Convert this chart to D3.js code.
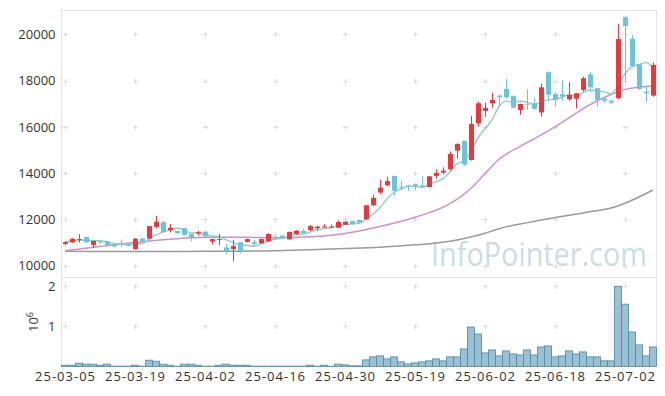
<!DOCTYPE html>
<html>
<head>
<meta charset="utf-8">
<script src="https://cdn.jsdelivr.net/npm/d3@7"></script>
<style>
  body { margin: 0; background: #fff; }
  svg { display: block; font-family: "Open Sans", sans-serif; }
</style>
</head>
<body>
<div id="chart"></div>
<script>
// trading days, 25-03-05 .. 25-07-08
const dates = [
  "25-03-05","25-03-06","25-03-07","25-03-10","25-03-11","25-03-12","25-03-13","25-03-14","25-03-17","25-03-18",
  "25-03-19","25-03-20","25-03-21","25-03-24","25-03-25","25-03-26","25-03-27","25-03-28","25-03-31","25-04-01",
  "25-04-02","25-04-03","25-04-04","25-04-07","25-04-08","25-04-09","25-04-10","25-04-11","25-04-14","25-04-15",
  "25-04-16","25-04-17","25-04-18","25-04-21","25-04-22","25-04-23","25-04-24","25-04-25","25-04-28","25-04-29",
  "25-04-30","25-05-02","25-05-07","25-05-08","25-05-09","25-05-12","25-05-13","25-05-14","25-05-15","25-05-16",
  "25-05-19","25-05-20","25-05-21","25-05-22","25-05-23","25-05-26","25-05-27","25-05-28","25-05-29","25-05-30",
  "25-06-02","25-06-04","25-06-05","25-06-09","25-06-10","25-06-11","25-06-12","25-06-13","25-06-16","25-06-17",
  "25-06-18","25-06-19","25-06-20","25-06-23","25-06-24","25-06-25","25-06-26","25-06-27","25-06-30","25-07-01",
  "25-07-02","25-07-03","25-07-04","25-07-07","25-07-08"
];

const open = [
  10940,11010,11130,11240,10900,11040,11050,10920,10950,10900,
  10710,11170,11170,11680,11880,11530,11500,11620,11360,11400,
  11470,11040,11120,10790,10720,11010,11025,11020,10970,11050,
  11250,11300,11140,11370,11510,11540,11620,11650,11650,11640,
  11770,11930,11970,12005,12610,13160,13470,13880,13420,13470,
  13520,13480,13400,13880,14020,14170,14970,15390,14570,16150,
  16690,17020,17350,17640,17340,16730,17000,17020,16620,18360,
  17420,17410,17190,17220,17600,18270,17670,17230,17130,17240,
  20740,19800,18700,17520,17350
];
const high = [
  11060,11190,11360,11250,11080,11120,11070,10940,11140,10930,
  11180,11210,11720,12160,11930,11800,11510,11640,11380,11500,
  11490,11160,11370,10960,11110,11020,11160,11110,11160,11400,
  11370,11310,11470,11540,11600,11760,11730,11800,11790,11960,
  11920,11940,11990,12620,13060,13700,13850,13890,13660,13480,
  13560,13850,13880,14170,14250,14930,15290,15400,16470,17090,
  17050,17480,17400,18070,17350,17000,17620,17260,17880,18400,
  17500,18000,17930,17460,18170,18360,17680,17280,17140,20450,
  20800,19970,18720,17800,18790
];
const low = [
  10880,10990,11000,10990,10760,10930,10880,10800,10820,10830,
  10700,11010,11160,11620,11430,11440,11380,11300,11060,11300,
  11250,10910,10880,10500,10200,10530,11000,10850,10950,11040,
  11120,11200,11130,11340,11390,11500,11520,11640,11640,11630,
  11760,11790,11850,11980,12580,13100,13440,13030,13270,13230,
  13260,13390,13380,13760,13950,14110,14630,14310,14540,16010,
  16440,16830,16880,17230,16800,16520,16730,16730,16440,17090,
  16880,17130,17130,16790,17540,17510,16880,17050,16980,17190,
  17960,18600,17580,17080,17300
];
const close = [
  11020,11160,11150,11010,11070,11000,10900,10830,10900,10860,
  11170,11030,11710,11900,11450,11640,11400,11330,11230,11450,
  11270,11150,11150,10610,10850,10650,11150,10940,11150,11370,
  11170,11220,11460,11510,11400,11710,11690,11700,11690,11890,
  11900,11800,11860,12610,12930,13370,13660,13240,13380,13440,
  13420,13420,13860,14010,14110,14830,15260,14370,16130,17020,
  16820,17160,17280,17280,16830,16990,16970,16780,17710,17390,
  17160,17310,17380,17450,18100,17710,17160,17130,17050,19790,
  20360,18630,17640,17450,18680
];
const volume = [
  33000,33000,83000,58000,58000,33000,58000,8000,8000,8000,
  33000,8000,157000,132000,58000,33000,8000,58000,58000,33000,
  8000,8000,33000,58000,33000,33000,33000,8000,8000,8000,
  8000,8000,8000,8000,8000,33000,8000,33000,8000,60000,
  41000,17000,17000,165000,240000,265000,190000,240000,116000,66000,
  91000,116000,141000,190000,141000,240000,240000,438000,984000,811000,
  339000,414000,265000,389000,314000,289000,414000,289000,488000,513000,
  240000,265000,389000,314000,364000,240000,240000,141000,141000,2000000,
  1555000,860000,538000,265000,488000
];

// 20 and 60 day averages (bar index, value)
const ma20Idx = [0,5,10,15,20,25,30,35,40,45,50,55,58,60,62,65,67,70,75,78,80,84];
const ma20Val = [10650,10830,11000,11140,11230,11230,11210,11250,11390,11690,12090,12680,13350,13980,14600,15150,15480,16000,16960,17400,17620,17770];
const ma60Idx = [0,10,20,30,35,40,45,50,55,60,62,65,70,75,78,80,84];
const ma60Val = [10620,10610,10620,10650,10690,10740,10800,10900,11060,11400,11600,11800,12080,12330,12490,12700,13270];

const xTicks = [0,10,20,30,40,50,60,70,80];
const priceTicks = [10000,12000,14000,16000,18000,20000];
const volTicks = [1000000,2000000];

const W = 665, H = 396;
const left = 61.5, right = 656.5;
const mainTop = 10.5, mainBot = 277.5, volBot = 366.5;

const svg = d3.select("#chart").append("svg")
  .attr("width", W).attr("height", H);

const n = dates.length;
const x = d3.scaleBand().domain(d3.range(n)).range([left, right]).padding(0);
const xc = i => x(i) + x.bandwidth() / 2;
const y = d3.scaleLinear().domain([9490, 21050]).range([mainBot, mainTop - 0.5]);
const yv = d3.scaleLinear().domain([0, 2220000]).range([volBot, mainBot]);

// watermark, squeezed to the width it has in the original
const wm = svg.append("text")
  .attr("font-size", 33)
  .attr("fill", "#cbdce7")
  .text("InfoPointer.com");
const wmScale = 216 / wm.node().getComputedTextLength();
wm.attr("transform", `translate(431,266) scale(${wmScale},1)`);

// frames
[[mainTop, mainBot], [mainBot, volBot]].forEach(([t, b]) => {
  svg.append("rect")
    .attr("x", left).attr("y", t)
    .attr("width", right - left).attr("height", b - t)
    .attr("fill", "none").attr("stroke", "#e4e4e4");
});

// grid crosses
function crosses(ys) {
  const pts = [];
  xTicks.forEach(i => ys.forEach(v => pts.push([Math.round(xc(i)) + 0.5, Math.round(v) + 0.5])));
  svg.append("g").selectAll("path").data(pts).enter().append("path")
    .attr("d", d => `M${d[0]-2.5},${d[1]}H${d[0]+2.5}M${d[0]},${d[1]-2.5}V${d[1]+2.5}`)
    .attr("stroke", "#dcdcdc").attr("stroke-width", 1);
}
crosses(priceTicks.map(y));
crosses(volTicks.map(yv));

// moving averages
const ma5 = close.map((c, i) => d3.mean(close.slice(Math.max(0, i - 4), i + 1)));

svg.append("path")
  .datum(ma60Idx.map((i, k) => [xc(i), y(ma60Val[k])]))
  .attr("d", d3.line().curve(d3.curveMonotoneX))
  .attr("fill", "none").attr("stroke", "#9a9a9a").attr("stroke-width", 1.5);

svg.append("path")
  .datum(ma20Idx.map((i, k) => [xc(i), y(ma20Val[k])]))
  .attr("d", d3.line().curve(d3.curveMonotoneX))
  .attr("fill", "none").attr("stroke", "#cf90cf").attr("stroke-width", 1.5);

svg.append("path")
  .datum(ma5.map((v, i) => [xc(i), y(v)]))
  .attr("d", d3.line().curve(d3.curveMonotoneX))
  .attr("fill", "none").attr("stroke", "#8dcfc3").attr("stroke-width", 1.4);

// candles
const upCol = "#f0353b", downCol = "#6cc3dc";
const bodyW = 5;
const candle = svg.append("g").selectAll("g").data(d3.range(n)).enter().append("g")
  .attr("fill", i => close[i] >= open[i] ? upCol : downCol)
  .attr("stroke", i => close[i] >= open[i] ? upCol : downCol);

candle.append("line")
  .attr("x1", i => Math.round(xc(i)) + 0.5).attr("x2", i => Math.round(xc(i)) + 0.5)
  .attr("y1", i => y(high[i])).attr("y2", i => y(low[i]))
  .attr("stroke-width", 1);

candle.append("rect")
  .attr("x", i => Math.round(xc(i)) + 0.5 - bodyW / 2)
  .attr("width", bodyW)
  .attr("y", i => y(Math.max(open[i], close[i])))
  .attr("height", i => Math.max(1, Math.abs(y(open[i]) - y(close[i]))))
  .attr("stroke", "none");

// volume bars
svg.append("g").selectAll("rect").data(d3.range(n)).enter().append("rect")
  .attr("x", i => x(i))
  .attr("width", x.bandwidth())
  .attr("y", i => yv(volume[i]))
  .attr("height", i => volBot - yv(volume[i]))
  .attr("fill", "#99c1d3")
  .attr("stroke", "#4d89a6").attr("stroke-width", 0.8);

// axes
const yAxis = svg.append("g")
  .attr("transform", `translate(${left},0)`)
  .call(d3.axisLeft(y).tickValues(priceTicks).tickSize(0).tickPadding(6).tickFormat(d3.format("d")));
const vAxis = svg.append("g")
  .attr("transform", `translate(${left},0)`)
  .call(d3.axisLeft(yv).tickValues(volTicks).tickSize(0).tickPadding(6).tickFormat(d => d / 1e6));
const xAxis = svg.append("g")
  .attr("transform", `translate(0,${volBot})`)
  .call(d3.axisBottom(x).tickValues(xTicks).tickSize(0).tickPadding(5.5).tickFormat(i => dates[i]));

[yAxis, vAxis, xAxis].forEach(g => {
  g.select(".domain").remove();
  g.selectAll("text")
    .attr("fill", "#333")
    .attr("font-size", 13)
    .attr("font-family", "'Open Sans', sans-serif");
});
xAxis.selectAll("text").attr("textLength", 60).attr("lengthAdjust", "spacing");

// 10^6 unit label
const unit = svg.append("text")
  .attr("transform", "translate(38,322) rotate(-90)")
  .attr("text-anchor", "middle")
  .attr("font-size", 13)
  .attr("fill", "#333");
unit.append("tspan").text("10");
unit.append("tspan").attr("font-size", 9).attr("dy", -5).text("6");
</script>
</body>
</html>
